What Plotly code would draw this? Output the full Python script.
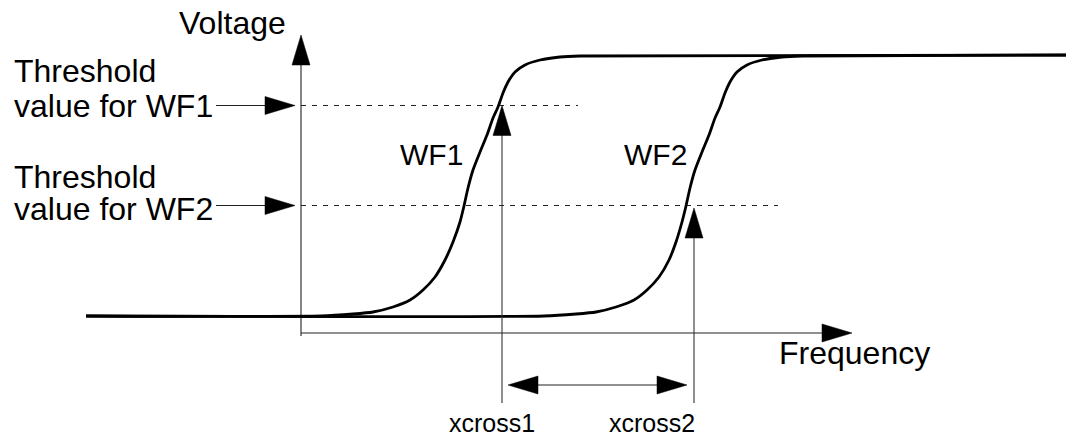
import plotly.graph_objects as go

# ---- data (frequency units on x, voltage units on y; origin at axis crossing) ----
wf1_f = [-215, 20, 52, 72, 92, 109, 122, 134, 144, 152, 159, 163, 167, 172, 179, 186, 192, 197,
         202, 207, 214, 224, 239, 259, 279, 773]
wf1_v = [17, 17, 19, 21, 26, 33, 43, 56, 73, 91, 111, 127, 145, 163, 181, 198, 215, 226,
         240, 251, 261, 268, 273, 276, 277, 278]

wf2_f = [-215, 243, 275, 295, 315, 333, 346, 358, 368, 375, 381, 385, 389, 394, 401, 408, 414, 419,
         424, 429, 436, 446, 461, 481, 501, 773]
wf2_v = [17, 17, 19, 21, 26, 33, 43, 56, 73, 91, 111, 127, 145, 163, 181, 198, 215, 226,
         240, 251, 261, 268, 273, 276, 277, 278]

threshold_values = [227.5, 127.5]          # WF1, WF2
threshold_ends = [277, 477]                # dashed line extents (frequency)
xcross = [201, 393]                        # xcross1, xcross2
xcross_tips = [227.5, 125]                 # where the up-arrows stop
x_axis_end = 551
y_axis_end = 298
label_arrow_start = -85
delta_arrow_v = -52
xcross_line_bottom = -70

BLACK = "#000000"
FONT = "Liberation Sans, Arial, sans-serif"

fig = go.Figure()

def line(xs, ys, width=1.0, color="#222222", dash=None):
    fig.add_trace(go.Scatter(x=xs, y=ys, mode="lines",
                             line=dict(color=color, width=width, dash=dash),
                             hoverinfo="skip", showlegend=False))

def head(tx, ty, dx, dy, length=30, half=9):
    # triangle arrowhead pointing in direction (dx, dy)
    bx, by = tx - dx * length, ty - dy * length
    px, py = -dy * half, dx * half
    fig.add_trace(go.Scatter(x=[tx, bx + px, bx - px, tx], y=[ty, by + py, by - py, ty],
                             mode="lines", fill="toself", fillcolor=BLACK,
                             line=dict(color=BLACK, width=0.5),
                             hoverinfo="skip", showlegend=False))

# axes
line([0, 0], [-3, y_axis_end - 25], 1.1)
head(0, y_axis_end, 0, 1)
line([0, x_axis_end - 25], [0, 0], 1.1)
head(x_axis_end, 0, 1, 0)

# threshold dashed lines and label arrows
for tv, te in zip(threshold_values, threshold_ends):
    line([0, te], [tv, tv], 1.0, "#222222", "5px,6px")
    line([label_arrow_start, -30], [tv, tv], 1.2)
    head(-6, tv, 1, 0)

# waveforms
for wf_f, wf_v in ((wf1_f, wf1_v), (wf2_f, wf2_v)):
    fig.add_trace(go.Scatter(x=wf_f, y=wf_v, mode="lines",
                             line=dict(color=BLACK, width=2.8, shape="spline", smoothing=0.6),
                             hoverinfo="skip", showlegend=False))

# crossing arrows
for xc, tip in zip(xcross, xcross_tips):
    line([xc, xc], [xcross_line_bottom, tip - 25], 1.1, "#333333")
    head(xc, tip, 0, 1)

# delta arrow
line([xcross[0] + 30, xcross[1] - 30], [delta_arrow_v, delta_arrow_v], 1.2)
head(xcross[0] + 6, delta_arrow_v, -1, 0)
head(xcross[1] - 7, delta_arrow_v, 1, 0)

def text(t, x, y, size=32, xanchor="left"):
    fig.add_annotation(x=x, y=y, text=t, showarrow=False, xanchor=xanchor, yanchor="middle",
                       font=dict(family=FONT, size=size, color=BLACK))

text("Voltage", -124, 310)
text("Threshold", -289, 262)
text("value for WF1", -289, 227)
text("Threshold", -289, 156)
text("value for WF2", -289, 124)
text("WF1", 130, 179, 30, "center")
text("WF2", 354, 179, 30, "center")
text("Frequency", 476, -19.5)
text("xcross1", 190.5, -89.5, 25, "center")
text("xcross2", 351, -89.5, 25, "center")

# page body has an 8px margin: figure occupies page pixels 8..1074 x 8..436
fig.update_layout(
    width=1066, height=428,
    margin=dict(l=0, r=0, t=0, b=0),
    paper_bgcolor="white", plot_bgcolor="white",
    xaxis=dict(range=[-293, 773], visible=False, fixedrange=True),
    yaxis=dict(range=[-103, 325], visible=False, fixedrange=True),
)

fig.write_html("out.html")
